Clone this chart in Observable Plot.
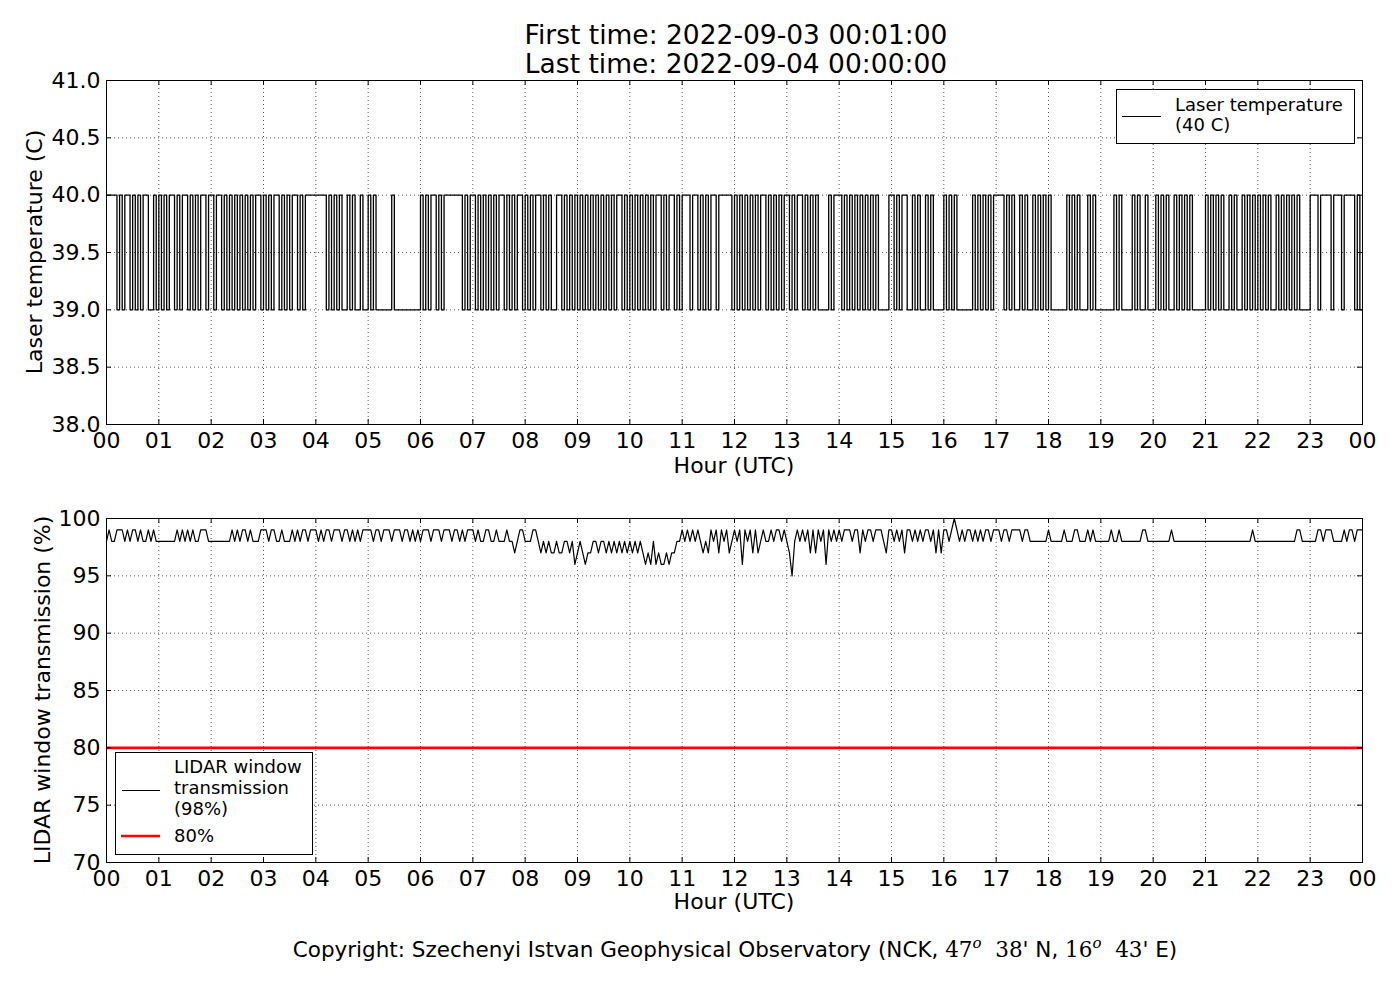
<!DOCTYPE html>
<html><head><meta charset="utf-8">
<script src="https://cdn.jsdelivr.net/npm/d3@7"></script>
<script src="https://cdn.jsdelivr.net/npm/@observablehq/plot@0.6"></script>
<style>
body{margin:0;background:#fff;}
#wrap{position:relative;width:1400px;height:1000px;font-family:"DejaVu Sans",sans-serif;background:#fff;}
#top,#bot,#overlay{position:absolute;left:0;}
#top{top:0}
#bot{top:490px}
#overlay{top:0;pointer-events:none}
</style></head><body>
<div id="wrap"><div id="top"></div><div id="bot"></div>
<svg id="overlay" width="1400" height="1000" font-family="DejaVu Sans" fill="black">
  <text x="736" y="44" font-size="26.5" text-anchor="middle">First time: 2022-09-03 00:01:00</text>
  <text x="736" y="73" font-size="26.5" text-anchor="middle">Last time: 2022-09-04 00:00:00</text>
  <text transform="translate(42,252) rotate(-90)" font-size="22" text-anchor="middle">Laser temperature (C)</text>
  <text transform="translate(50,690) rotate(-90)" font-size="22" text-anchor="middle">LIDAR window transmission (%)</text>
  <text x="734" y="473" font-size="22" text-anchor="middle">Hour (UTC)</text>
  <text x="734" y="909" font-size="22" text-anchor="middle">Hour (UTC)</text>
  <rect x="1116.5" y="89.5" width="238" height="54" fill="white" stroke="black" stroke-width="1"/>
  <line x1="1122" x2="1161" y1="116.5" y2="116.5" stroke="black" stroke-width="1"/>
  <text x="1175" y="111" font-size="18">Laser temperature</text>
  <text x="1175" y="131" font-size="18">(40 C)</text>
  <rect x="115.5" y="752.5" width="197" height="102" fill="white" stroke="black" stroke-width="1"/>
  <line x1="122" x2="160" y1="790.5" y2="790.5" stroke="black" stroke-width="1"/>
  <line x1="121" x2="160" y1="836" y2="836" stroke="#ff0000" stroke-width="2.6"/>
  <text x="174" y="773" font-size="18">LIDAR window</text>
  <text x="174" y="794" font-size="18">transmission</text>
  <text x="174" y="815" font-size="18">(98%)</text>
  <text x="174" y="842" font-size="18">80%</text>
  <text x="735" y="957" font-size="21.5" text-anchor="middle">Copyright: Szechenyi Istvan Geophysical Observatory (NCK, <tspan font-family="DejaVu Serif">47</tspan><tspan font-family="DejaVu Serif" font-style="italic" font-size="15" dy="-9">o</tspan><tspan font-family="DejaVu Serif" dy="9">&#160;&#160;38</tspan>' N, <tspan font-family="DejaVu Serif">16</tspan><tspan font-family="DejaVu Serif" font-style="italic" font-size="15" dy="-9">o</tspan><tspan font-family="DejaVu Serif" dy="9">&#160;&#160;43</tspan>' E)</text>
</svg></div>
<script>
// ---- data (one string per hour, ~3 min per character) ----
const hours = [0,1,2,3,4,5,6,7,8,9,10,11,12,13,14,15,16,17,18,19,20,21,22,23,24];
const hourLabels = ["00","01","02","03","04","05","06","07","08","09","10","11","12","13","14","15","16","17","18","19","20","21","22","23","00"];
const tempTicks = [38, 38.5, 39, 39.5, 40, 40.5, 41];
const transTicks = [70, 75, 80, 85, 90, 95, 100];
// '1' = 40.0 C, '0' = 39.0 C
const laserTempByHour = [
  "11110101101010110010","10101101011010101101","10110101010101010110","10101101010110101111",
  "11110101010010100100","10100000010000000000","10101101011111110101","10101010101101010110",
  "10101101010011010101","01010101010101011010","10101010101101011010","11101101010110111110",
  "10101010101101010101","10101101010100001011","10101010101010100001","10101100101001010000",
  "10101000000101010101","11101010010100101010","10000001010100010100","00000101000010100100",
  "01010100101010100000","10101010010100101010","10101001010101010000","11101111011101111010"
];
// digit d = 90 + d %, 'A' = 100 %
const transmissionByHour = [
  "89889998989989889898","88888889898989889998","88888888989899898889","99899889888989899899",
  "98989989998998989899","99899899989998998989","89998999899989989899","98988998898889887899",
  "88899878787787788786","78767788788787878787","87878767686766767788","98989898787989798978",
  "98969897978988989989","87589898979798969898","98999899798998999879","98989799898989989797",
  "9989A989899898989989","99899899998998888888","98888898889988898988","88889889888888889988",
  "88888889888888888888","88888888888888888898","88888888888888899888","88899899988889899899"
];
const threshold = [80];

function expand(rows, map) {
  const pts = [];
  rows.forEach((s, h) => { for (let i = 0; i < s.length; i++) pts.push({x: h + i / s.length, y: map(s[i])}); });
  pts.push({x: 24, y: pts[pts.length - 1].y});
  return pts;
}
const tempData = expand(laserTempByHour, c => c === "1" ? 40 : 39);
const transData = expand(transmissionByHour, c => c === "A" ? 100 : 90 + Number(c));

const W = 1400, ML = 106, MR = 38, TICK = 5;
function panel({data, yDomain, yTicks, yFmt, height, mt, mb, curve, strokeWidth, extra}) {
  const fh = height - mt - mb, fw = W - ML - MR;
  const grid = {stroke: "#000", strokeOpacity: 0.85, strokeWidth: 0.8, strokeDasharray: "1,3"};
  return Plot.plot({
    width: W, height, marginLeft: ML, marginRight: MR, marginTop: mt, marginBottom: mb,
    style: {fontFamily: "DejaVu Sans", fontSize: "22px", color: "black", background: "white", overflow: "visible"},
    x: {domain: [0, 24], ticks: hours, tickFormat: d => hourLabels[hours.indexOf(d)], tickSize: 0, tickPadding: 8, label: null},
    y: {domain: yDomain, ticks: yTicks, tickFormat: yFmt, tickSize: 0, tickPadding: 6, label: null},
    marks: [
      Plot.gridX(hours, grid),
      Plot.gridY(yTicks, grid),
      ...extra,
      Plot.line(data, {x: "x", y: "y", stroke: "black", strokeWidth, curve}),
      Plot.tickX(hours, {x: d => d, insetTop: fh - TICK, stroke: "black"}),
      Plot.tickX(hours, {x: d => d, insetBottom: fh - TICK, stroke: "black"}),
      Plot.tickY(yTicks, {y: d => d, insetRight: fw - TICK, stroke: "black"}),
      Plot.tickY(yTicks, {y: d => d, insetLeft: fw - TICK, stroke: "black"}),
      Plot.frame({stroke: "black", strokeWidth: 1})
    ]
  });
}

document.getElementById("top").appendChild(panel({
  data: tempData, yDomain: [38, 41], yTicks: tempTicks, yFmt: d => d.toFixed(1),
  height: 490, mt: 80, mb: 66, curve: "step-after", strokeWidth: 1.3, extra: []
}));
document.getElementById("bot").appendChild(panel({
  data: transData, yDomain: [70, 100], yTicks: transTicks, yFmt: d => String(d),
  height: 420, mt: 28, mb: 48, curve: "linear", strokeWidth: 1.2,
  extra: [Plot.ruleY(threshold, {stroke: "#ff0000", strokeWidth: 2.6})]
}));
</script>
</body></html>
